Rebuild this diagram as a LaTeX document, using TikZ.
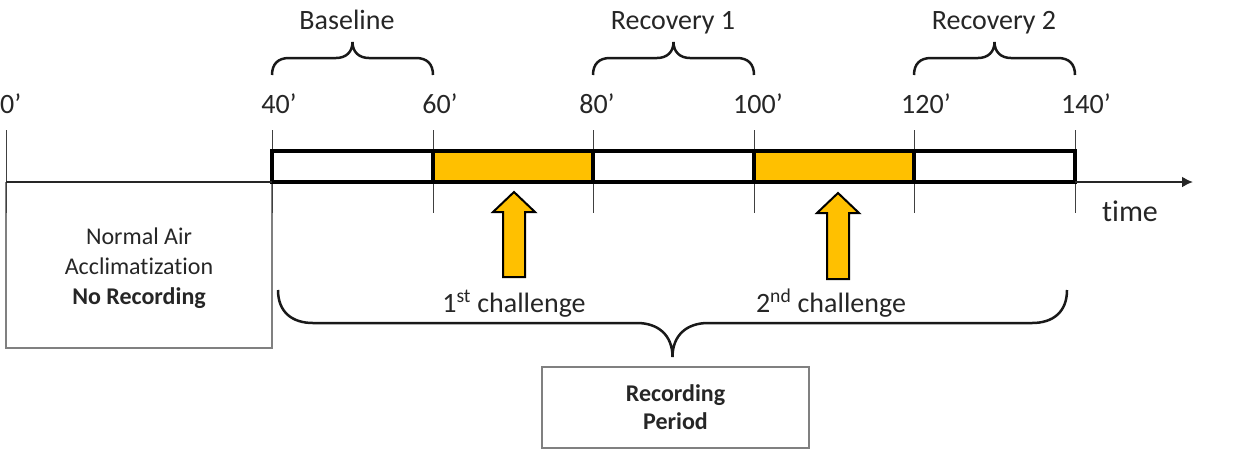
\documentclass[tikz,border=0pt]{standalone}
\usepackage{fontspec}
\setmainfont{Carlito}[Ligatures=NoCommon]
\usetikzlibrary{arrows.meta}
\definecolor{gold}{HTML}{FFC000}
\definecolor{txt}{HTML}{262626}
\tikzset{
  lbl/.style={inner sep=0pt, anchor=base, text=txt, font=\fontsize{28}{30}\selectfont},
  tick/.style={draw=black!75, line width=1pt},
  bar/.style={draw=black, line width=3.5pt},
  grbox/.style={draw=black!50, line width=1.5pt},
  bracestyle/.style={draw=black!90, line width=2.5pt},
  blockarrow/.style={fill=gold, draw=black, line width=2pt, line join=miter},
}
\begin{document}
\begin{tikzpicture}[x=1pt,y=-1pt]
\useasboundingbox (0,0) rectangle (1257,451);
% Normal air box
\draw[grbox] (6,182) -- (6,348) -- (272,348) -- (272,182);
\node[inner sep=0pt, align=center, text=txt, font=\fontsize{24}{30}\selectfont] (na) at (139,268)
  {Normal Air\\Acclimatization\\\textbf{No Recording}};
% ticks
\foreach \x in {6,272,433,593,754,914,1075}{\draw[tick] (\x,130) -- (\x,213);}
\draw[tick] (6,130) -- (6,182);
% bars
\draw[bar, fill=gold] (433,151) rectangle (593,182);
\draw[bar, fill=gold] (754,151) rectangle (914,182);
\draw[bar, fill=white] (272,151) rectangle (433,182);
\draw[bar, fill=white] (593,151) rectangle (754,182);
\draw[bar, fill=white] (914,151) rectangle (1075,182);
% axis
\coordinate (axs) at (6,182);
\coordinate (axe) at (1193,182);
\draw[line width=2pt, draw=black!85, -{Latex[length=11pt,width=11pt]}] (axs) -- (272,182) (1075,182) -- (axe);
\node[lbl, font=\fontsize{30}{32}\selectfont] (time) at (1130,221) {time};
% tick labels
\node[lbl, anchor=base west] (l0) at (0,113) {0’};
\node[lbl] (l40) at (279,113) {40’};
\node[lbl] (l60) at (440,113) {60’};
\node[lbl] (l80) at (597,113) {80’};
\node[lbl] (l100) at (758,113) {100’};
\node[lbl] (l120) at (926,113) {120’};
\node[lbl] (l140) at (1086,113) {140’};
% top braces
\draw[bracestyle] (272,75) .. controls (272,64) and (278,58) .. (289,58) -- (336,58) .. controls (346,58) and (352.5,52) .. (352.5,42) .. controls (352.5,52) and (359,58) .. (369,58) -- (416,58) .. controls (427,58) and (433,64) .. (433,75);
\draw[bracestyle] (593,75) .. controls (593,64) and (599,58) .. (610,58) -- (657,58) .. controls (667,58) and (673.5,52) .. (673.5,42) .. controls (673.5,52) and (680,58) .. (690,58) -- (737,58) .. controls (748,58) and (754,64) .. (754,75);
\draw[bracestyle] (914,75) .. controls (914,64) and (920,58) .. (931,58) -- (978,58) .. controls (988,58) and (994.5,52) .. (994.5,42) .. controls (994.5,52) and (1001,58) .. (1011,58) -- (1058,58) .. controls (1069,58) and (1075,64) .. (1075,75);
\node[lbl] (bl) at (347,29) {Baseline};
\node[lbl] (r1) at (673,29) {Recovery 1};
\node[lbl] (r2) at (994,29) {Recovery 2};
% challenge arrows
\draw[blockarrow] (503,277) -- (503,212) -- (493,212) -- (514,192) -- (535,212) -- (525,212) -- (525,277) -- cycle;
\draw[blockarrow] (827,279) -- (827,213) -- (817,213) -- (838,193) -- (859,213) -- (849,213) -- (849,279) -- cycle;
\node[lbl] (c1) at (514,312) {1\textsuperscript{st} challenge};
\node[lbl] (c2) at (831,312) {2\textsuperscript{nd} challenge};
% bottom brace
\draw[bracestyle] (278,290) .. controls (278,312) and (292,323) .. (313,323) -- (637,323) .. controls (658,323) and (672.5,335) .. (672.5,357) .. controls (672.5,335) and (687,323) .. (708,323) -- (1032,323) .. controls (1053,323) and (1067,312) .. (1067,290);
% recording box
\node[grbox, minimum width=267pt, minimum height=81pt, inner sep=0pt, align=center, text=txt,
  font=\fontsize{24}{28}\selectfont\bfseries] (rec) at (675.5,407.5) {Recording\\Period};
\end{tikzpicture}
\end{document}
